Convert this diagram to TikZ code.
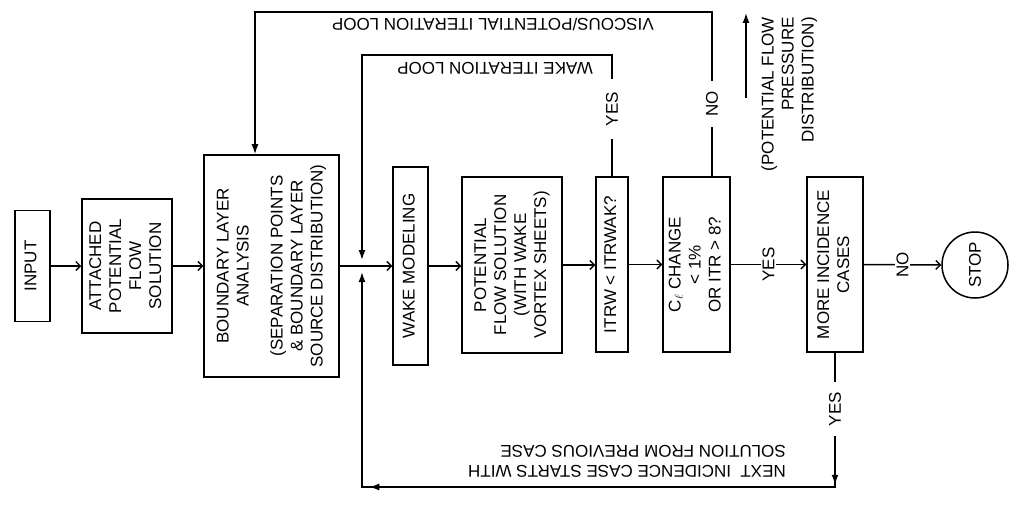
\documentclass[tikz,border=0pt]{standalone}
\usepackage{fontspec}
\setmainfont{Liberation Sans}
\usepackage{graphicx}
\usetikzlibrary{arrows.meta,decorations.markings,calc}
\newcommand{\vtext}[1]{\rotatebox{90}{\begin{tabular}{@{}c@{}}#1\end{tabular}}}
\begin{document}
\begin{tikzpicture}[x=1pt,y=-1pt,
  font=\fontsize{17}{20}\selectfont,
  box/.style={draw, line width=1.5pt, inner sep=0pt},
  ln/.style={line width=1.5pt},
  fl/.style={ln, -{Straight Barb[length=4.5pt,width=9pt,line width=1.4pt]}},
  tipp/.style={-{Latex[length=10pt,width=7pt]}},
  lp/.style={ln, tipp},
  lab/.style={fill=white, inner ysep=1pt, inner xsep=2pt, rotate=90},
  flip/.style={rotate=180, align=left, inner sep=0pt}]
\useasboundingbox (0,0) rectangle (1017,508);

% boxes
\node[box, minimum width=35pt, minimum height=111pt] (input) at (32.5,266) {\vtext{INPUT}};
\node[box, minimum width=90pt, minimum height=134pt] (att) at (127,266) {\vtext{ATTACHED\\POTENTIAL\\FLOW\\SOLUTION}};
\node[box, minimum width=135pt, minimum height=222pt] (bl) at (271.5,266) {\vtext{BOUNDARY LAYER\\ANALYSIS\\[14pt](SEPARATION POINTS\\\& BOUNDARY LAYER\\SOURCE DISTRIBUTION)}};
\node[box, minimum width=35pt, minimum height=198pt] (wake) at (410.5,266) {\vtext{WAKE MODELING}};
\node[box, minimum width=100pt, minimum height=176pt] (pot) at (512,265) {\vtext{POTENTIAL\\FLOW SOLUTION\\(WITH WAKE\\VORTEX SHEETS)}};
\node[box, minimum width=32pt, minimum height=175pt] (itrw) at (612,264.5) {\vtext{ITRW < ITRWAK?}};
\node[box, minimum width=67pt, minimum height=175pt] (cl) at (696.5,264.5) {\vtext{C$_\ell$ CHANGE\\< 1\%\\OR ITR > 8?}};
\node[box, minimum width=56pt, minimum height=175pt] (more) at (835,264.5) {\vtext{MORE INCIDENCE\\CASES}};
\node[draw, circle, line width=1.5pt, minimum size=66pt, inner sep=0pt] (stop) at (975,265) {\rotatebox{90}{STOP}};

% coordinates
\coordinate (J) at (362,266);
\coordinate (jt) at (362,260);
\coordinate (jb) at (362,272);
\coordinate (wl) at (362,55);
\coordinate (vx) at (712,12);
\coordinate (vl) at (255,12);
\coordinate (c2) at (362,487);
\coordinate (pa) at (746,98);
\coordinate (pb) at (746,13);

% main flow
\draw[fl] (input.east) -- (input.east -| att.west);
\draw[fl] (att.east) -- (att.east -| bl.west);
\draw[ln] (bl.east) -- (J);
\draw[fl] (J) -- (J -| wake.west);
\draw[fl] (wake.east) -- (wake.east -| pot.west);
\draw[fl] (pot.east) -- (pot.east -| itrw.west);
\draw[fl] (itrw.east) -- (itrw.east -| cl.west);
\draw[fl] (cl.east) -- node[lab]{YES} (cl.east -| more.west);
\draw[fl] (more.east) -- node[lab]{NO} (stop.west);

% wake iteration loop
\draw[lp] (itrw.north) |- (wl) -- (jt);
\node[lab, inner xsep=13pt] (yes1) at (612,109) {YES};
\node[flip, anchor=west] (wlab) at (593,68) {WAKE ITERATION LOOP};

% viscous/potential loop
\draw[lp] (cl.north -| vx) -- (vx) -- (vl) -- (vl |- bl.north);
\node[lab, inner xsep=10pt] (no1) at (712,104) {NO};
\node[flip, anchor=west] (vlab) at (654,25) {VISCOUS/POTENTIAL ITERATION LOOP};

% potential flow pressure distribution
\draw[lp] (pa) -- (pb);
\node[rotate=90, align=right, inner sep=0pt, anchor=north east] (pfp) at (761,17) {(POTENTIAL FLOW\\PRESSURE\\DISTRIBUTION)};

% next incidence loop
\draw[ln, tipp, postaction={decorate}, decoration={markings,
   mark=at position 132pt with {\arrow{Latex[length=10pt,width=7pt]}},
   mark=at position 600pt with {\arrow{Latex[length=10pt,width=7pt]}}}]
   (more.south) |- (c2) -- (jb);
\node[lab, inner xsep=10pt] (yes3) at (835,409) {YES};
\node[flip, anchor=west] (nlab) at (786,461) {NEXT\ \ INCIDENCE CASE STARTS WITH\\SOLUTION FROM PREVIOUS CASE};
\end{tikzpicture}
\end{document}
